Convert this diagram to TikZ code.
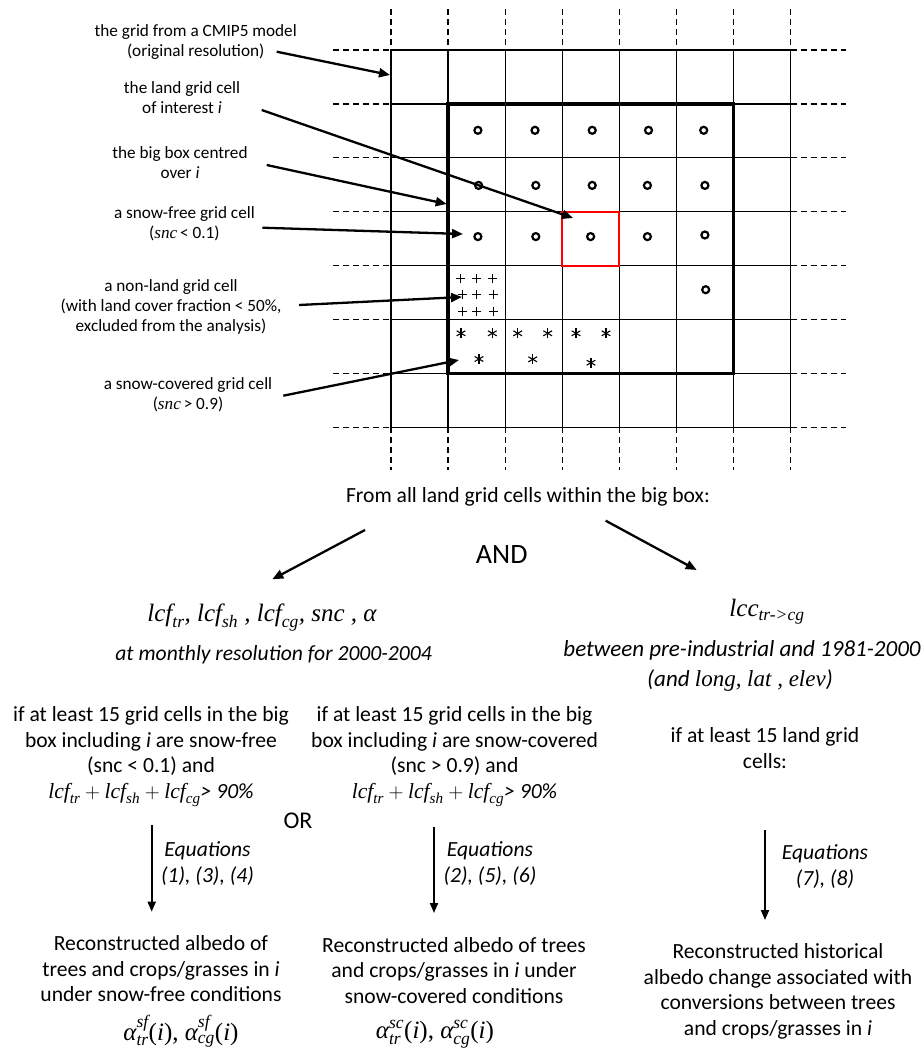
\documentclass[tikz,border=0pt]{standalone}
\usepackage{fontspec}
\setmainfont{Carlito}
\newfontfamily\formfont{Liberation Serif}
\usepackage{amsmath}
\usetikzlibrary{arrows.meta}
\usetikzlibrary{positioning}
\newcommand{\fv}[1]{\text{\formfont\itshape #1}} % italic serif variable
\newcommand{\fu}[1]{\text{\formfont #1}} % upright serif
\newcommand{\gridcol}[1] % x in px
{
	\draw[griddash] (#1,9) -- (#1,50);
	\draw[gridline] (#1,50) -- (#1,427.3);
	\draw[griddash] (#1,427.3) -- (#1,470);
}
\newcommand{\gridrow}[1] % y in px
{
	\draw[griddash] (333,#1) -- (391,#1);
	\draw[gridline] (391,#1) -- (790.7,#1);
	\draw[griddash] (790.7,#1) -- (846,#1);
}
\newcommand{\landmark}[2] % snow-free land cell
{
	\draw[line width=2.2pt] (#1,#2) circle (3.5pt);
}
\newcommand{\seamark}[2] % non-land cell
{
	\draw[line width=1.1pt] (#1-4.6,#2) -- (#1+4.6,#2);
	\draw[line width=1.1pt] (#1,#2-4.6) -- (#1,#2+4.6);
}
\newcommand{\snowmark}[2] % snow-covered cell
{
	\draw[line width=1.1pt] (#1,#2) +(90:5) -- +(270:5);
	\draw[line width=1.1pt] (#1,#2) +(30:5) -- +(210:5);
	\draw[line width=1.1pt] (#1,#2) +(150:5) -- +(330:5);
}

\begin{document}
\begin{tikzpicture}[x=1pt,y=-1pt,
	gridline/.style={line width=1.3pt},
	griddash/.style={line width=1.3pt,dash pattern=on 6pt off 4pt},
	pointer/.style={line width=2.3pt,-{Triangle[length=11pt,width=9pt]}},
	flow/.style={line width=1.9pt,-{Triangle[length=10pt,width=8pt]}},
	gridnote/.style={align=center,inner sep=0pt,font=\fontsize{17.2}{20}\selectfont},
	flowtext/.style={align=center,inner sep=0pt,font=\fontsize{21.6}{25.5}\selectfont},
	flowital/.style={align=center,inner sep=0pt,font=\fontsize{21.6}{26}\selectfont\itshape},
	bigform/.style={inner sep=0pt,font=\fontsize{25}{29}\selectfont},
	resform/.style={inner sep=0pt,font=\fontsize{25}{29}\selectfont}]
	\useasboundingbox (0,0) rectangle (924,1050);
	% model grid: 7 x 7 cells of 57.1 x 53.9 px
	\gridcol{391} \gridcol{448.1} \gridcol{505.2} \gridcol{562.3}
	\gridcol{619.4} \gridcol{676.5} \gridcol{733.6} \gridcol{790.7}
	\gridrow{50} \gridrow{103.9} \gridrow{157.8} \gridrow{211.7}
	\gridrow{265.6} \gridrow{319.5} \gridrow{373.4} \gridrow{427.3}
	% big box and cell of interest
	\draw[line width=3.6pt] (448.1,103.9) rectangle (733.6,373.4);
	\draw[red,line width=2pt] (562.3,211.7) rectangle (619.4,265.6);
	% snow-free cells
	\landmark{477.9}{130.3} \landmark{535}{130.3} \landmark{592.2}{130.3} \landmark{648.5}{130.3} \landmark{703.7}{130.3}
	\landmark{478.6}{185.4} \landmark{535.8}{185.4} \landmark{592.2}{185.4} \landmark{647.4}{185.4} \landmark{704.9}{185.4}
	\landmark{477.9}{236.6} \landmark{535.8}{236.6} \landmark{590.6}{236.6} \landmark{647.4}{236.6} \landmark{704.9}{235}
	\landmark{705.7}{289.7}
	% non-land cell
	\seamark{460.7}{278.3} \seamark{476.7}{278.3} \seamark{492.7}{278.3}
	\seamark{462.3}{294.3} \seamark{476.7}{294.3} \seamark{493.3}{294.3}
	\seamark{462.3}{311.7} \seamark{476.7}{311.7} \seamark{493.3}{311.7}
	% snow-covered cells
	\snowmark{461}{333.3} \snowmark{492.3}{333.3} \snowmark{517.7}{333.3}
	\snowmark{547.7}{333.3} \snowmark{576}{333.3} \snowmark{606}{333.3}
	\snowmark{479}{359} \snowmark{532.7}{359.3} \snowmark{591}{362.7}

	% notes on the left
	\node[gridnote,anchor=base] (gridnote) at (195.7,56.7) {the grid from a CMIP5 model\\(original resolution)};
	\node[gridnote,anchor=base] (cellnote) at (182,113.3) {the land grid cell\\of interest \textit{i}};
	\node[gridnote,anchor=base] (boxnote) at (180,178.3) {the big box centred\\over \textit{i}};
	\node[gridnote,anchor=base] (freenote) at (184.4,238.3) {a snow-free grid cell\\(\fv{snc}\,< 0.1)};
	\node[gridnote,anchor=base] (seanote) at (171,331.7) {a non-land grid cell\\(with land cover fraction < 50\%,\\excluded from the analysis)};
	\node[gridnote,anchor=base] (snownote) at (188,409.3) {a snow-covered grid cell\\(\fv{snc}\,> 0.9)};
	\coordinate (gridfrom) at (276.7,51.7);
	\coordinate (gridtip) at (390,75);
	\coordinate (cellfrom) at (261.7,110);
	\coordinate (celltip) at (573,218);
	\coordinate (boxfrom) at (266.7,165);
	\coordinate (boxtip) at (446.7,204);
	\coordinate (freefrom) at (262.3,227.7);
	\coordinate (freetip) at (463,234);
	\coordinate (seafrom) at (299,305);
	\coordinate (seatip) at (462,297);
	\coordinate (snowfrom) at (283.3,395.7);
	\coordinate (snowtip) at (459,360);
	\draw[pointer] (gridfrom) -- (gridtip);
	\draw[pointer] (cellfrom) -- (celltip);
	\draw[pointer] (boxfrom) -- (boxtip);
	\draw[pointer] (freefrom) -- (freetip);
	\draw[pointer] (seafrom) -- (seatip);
	\draw[pointer] (snowfrom) -- (snowtip);

	% data taken from the big box
	\node[flowtext,anchor=base] (fromall) at (528,502) {From all land grid cells within the big box:};
	\node[inner sep=0pt,font=\fontsize{28}{32}\selectfont] (andword) at (501.7,555) {AND};
	\node[bigform,anchor=base] (leftvars) at (262,621.7) {$\fv{lcf}_{\fv{tr}}\fv{, }\fv{lcf}_{\fv{sh}}\fv{ , }\fv{lcf}_{\fv{cg}}\fv{, snc , α}$};
	\node[flowital,anchor=base east] (leftperiod) at (432,660) {at monthly resolution for 2000-2004};
	\node[bigform,anchor=base] (lccvar) at (767,616.7) {$\fv{lcc}_{\fv{tr->cg}}$};
	\node[flowital,anchor=base,font=\fontsize{23}{26}\selectfont\itshape] (lccperiod) at (742,656.7) {between pre-industrial and 1981-2000};
	\node[inner sep=0pt,anchor=base,font=\fontsize{23}{27}\selectfont] (lccextra) at (740,686.7) {\textit{(and }\fv{long, lat , elev}\textit{)}};
	\coordinate (leftfrom) at (365,530);
	\coordinate (lefttip) at (272.3,579.3);
	\coordinate (rightfrom) at (605.7,520.7);
	\coordinate (righttip) at (696.7,570);
	\draw[pointer] (leftfrom) -- (lefttip);
	\draw[pointer] (rightfrom) -- (righttip);

	% conditions
	\node[flowtext,anchor=base] (freecond) at (151,798) {if at least 15 grid cells in the big\\box including \textit{i} are snow-free\\(snc < 0.1) and\\$\fv{lcf}_{\fv{tr}} + \fv{lcf}_{\fv{sh}} + \fv{lcf}_{\fv{cg}}$\textit{> 90\%}};
	\node[flowtext,anchor=base] (snowcond) at (454.5,798) {if at least 15 grid cells in the big\\box including \textit{i} are snow-covered\\(snc > 0.9) and\\$\fv{lcf}_{\fv{tr}} + \fv{lcf}_{\fv{sh}} + \fv{lcf}_{\fv{cg}}$\textit{> 90\%}};
	\node[flowtext,anchor=base] (landcond) at (765,768.3) {if at least 15 land grid\\cells:};
	\node[inner sep=0pt,font=\fontsize{24}{28}\selectfont] (orword) at (298,820.5) {OR};

	% equations
	\coordinate (freestart) at (151.7,825);
	\coordinate (freeend) at (151.7,911.7);
	\coordinate (snowstart) at (434,826.7);
	\coordinate (snowend) at (434,913);
	\coordinate (landstart) at (765,830);
	\coordinate (landend) at (765,920);
	\draw[flow] (freestart) -- (freeend);
	\draw[flow] (snowstart) -- (snowend);
	\draw[flow] (landstart) -- (landend);
	\node[flowital,anchor=base] (eqfree) at (207.5,882.7) {Equations\\(1), (3), (4)};
	\node[flowital,anchor=base] (eqsnow) at (490,882.7) {Equations\\(2), (5), (6)};
	\node[flowital,anchor=base] (eqland) at (825,885) {Equations\\(7), (8)};

	% results
	\node[flowtext,anchor=base] (freeresult) at (161,1001.7) {Reconstructed albedo of\\trees and crops/grasses in \textit{i}\\under snow-free conditions};
	\node[resform,anchor=base] (freealpha) at (181,1040) {$\fv{α}^{\fv{sf}}_{\fv{tr}}\fu{(}\fv{i}\fu{), }\fv{α}^{\fv{sf}}_{\fv{cg}}\fu{(}\fv{i}\fu{)}$};
	\node[flowtext,anchor=base] (snowresult) at (454,1003) {Reconstructed albedo of trees\\and crops/grasses in \textit{i} under\\snow-covered conditions};
	\node[resform,anchor=base] (snowalpha) at (435,1038) {$\fv{α}^{\fv{sc}}_{\fv{tr}}\fu{(}\fv{i}\fu{), }\fv{α}^{\fv{sc}}_{\fv{cg}}\fu{(}\fv{i}\fu{)}$};
	\node[flowtext,anchor=base] (landresult) at (778,1035) {Reconstructed historical\\albedo change associated with\\conversions between trees\\and crops/grasses in \textit{i}};
\end{tikzpicture}
\end{document}
